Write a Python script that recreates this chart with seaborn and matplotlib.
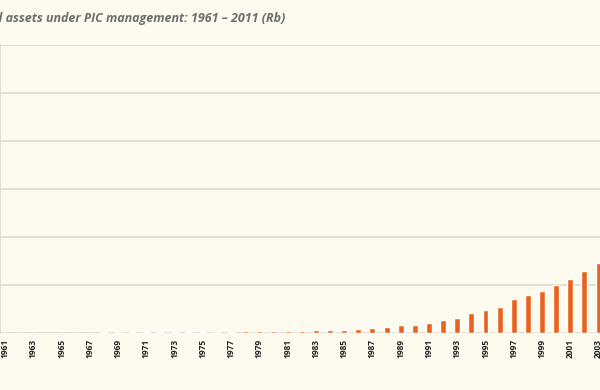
import numpy as np
import pandas as pd
import matplotlib
matplotlib.use('Agg')
import matplotlib.pyplot as plt
import seaborn as sns

# years visible in the (cropped) chart, one bar per year
years = list(range(1961, 2004))
# assets under PIC management (Rb)
assets = [2, 2, 2, 2, 2, 2, 2,
          5, 5, 5, 5, 5, 5, 5, 5, 5, 5,
          9, 9, 9, 9,
          9, 13, 13, 13, 19, 24, 28, 34, 34, 43,
          54, 65, 85, 96, 111, 145, 161, 176, 201, 226,
          260, 295]
tick_years = [str(y) if (y - 1961) % 2 == 0 else '' for y in years]

df = pd.DataFrame({'year': [str(y) for y in years], 'assets': assets})

bg = '#fdfbf0'
orange = '#e8641e'
grid = '#dcdad2'

sns.set_style('white')
plt.rcParams['font.family'] = ['Open Sans', 'DejaVu Sans']

fig = plt.figure(figsize=(6, 3.9), dpi=100, facecolor=bg)
ax = fig.add_axes([0.0, 0.145, 1.0, 0.74])
ax.set_facecolor(bg)

sns.barplot(data=df, x='year', y='assets', color=orange, width=0.42,
            saturation=1, ax=ax, zorder=3)

ax.set_ylim(0, 1200)
ax.set_yticks(np.arange(0, 1201, 200))
ax.yaxis.grid(True, color=grid, linewidth=1.2)
ax.set_axisbelow(True)
ax.set_xlim(-0.35, 42.1)
ax.set_xticks(range(len(years)))
ax.set_xticklabels(tick_years, rotation=90, fontsize=6, color='#222222',
                   fontweight='bold')
ax.tick_params(axis='x', length=0, pad=4)
ax.tick_params(axis='y', length=0, labelleft=False)
ax.set_xlabel('')
ax.set_ylabel('')
for s in ['top', 'right', 'bottom']:
    ax.spines[s].set_visible(False)
ax.spines['left'].set_color(grid)
ax.spines['left'].set_linewidth(1.2)

fig.text(0.476, 0.953, 'Total assets under PIC management: 1961 \u2013 2011 (Rb)',
         fontsize=9, style='italic', fontweight='bold', color='#6e6e6e',
         ha='right', va='center')

fig.savefig('out.png', dpi=100, facecolor=bg)
